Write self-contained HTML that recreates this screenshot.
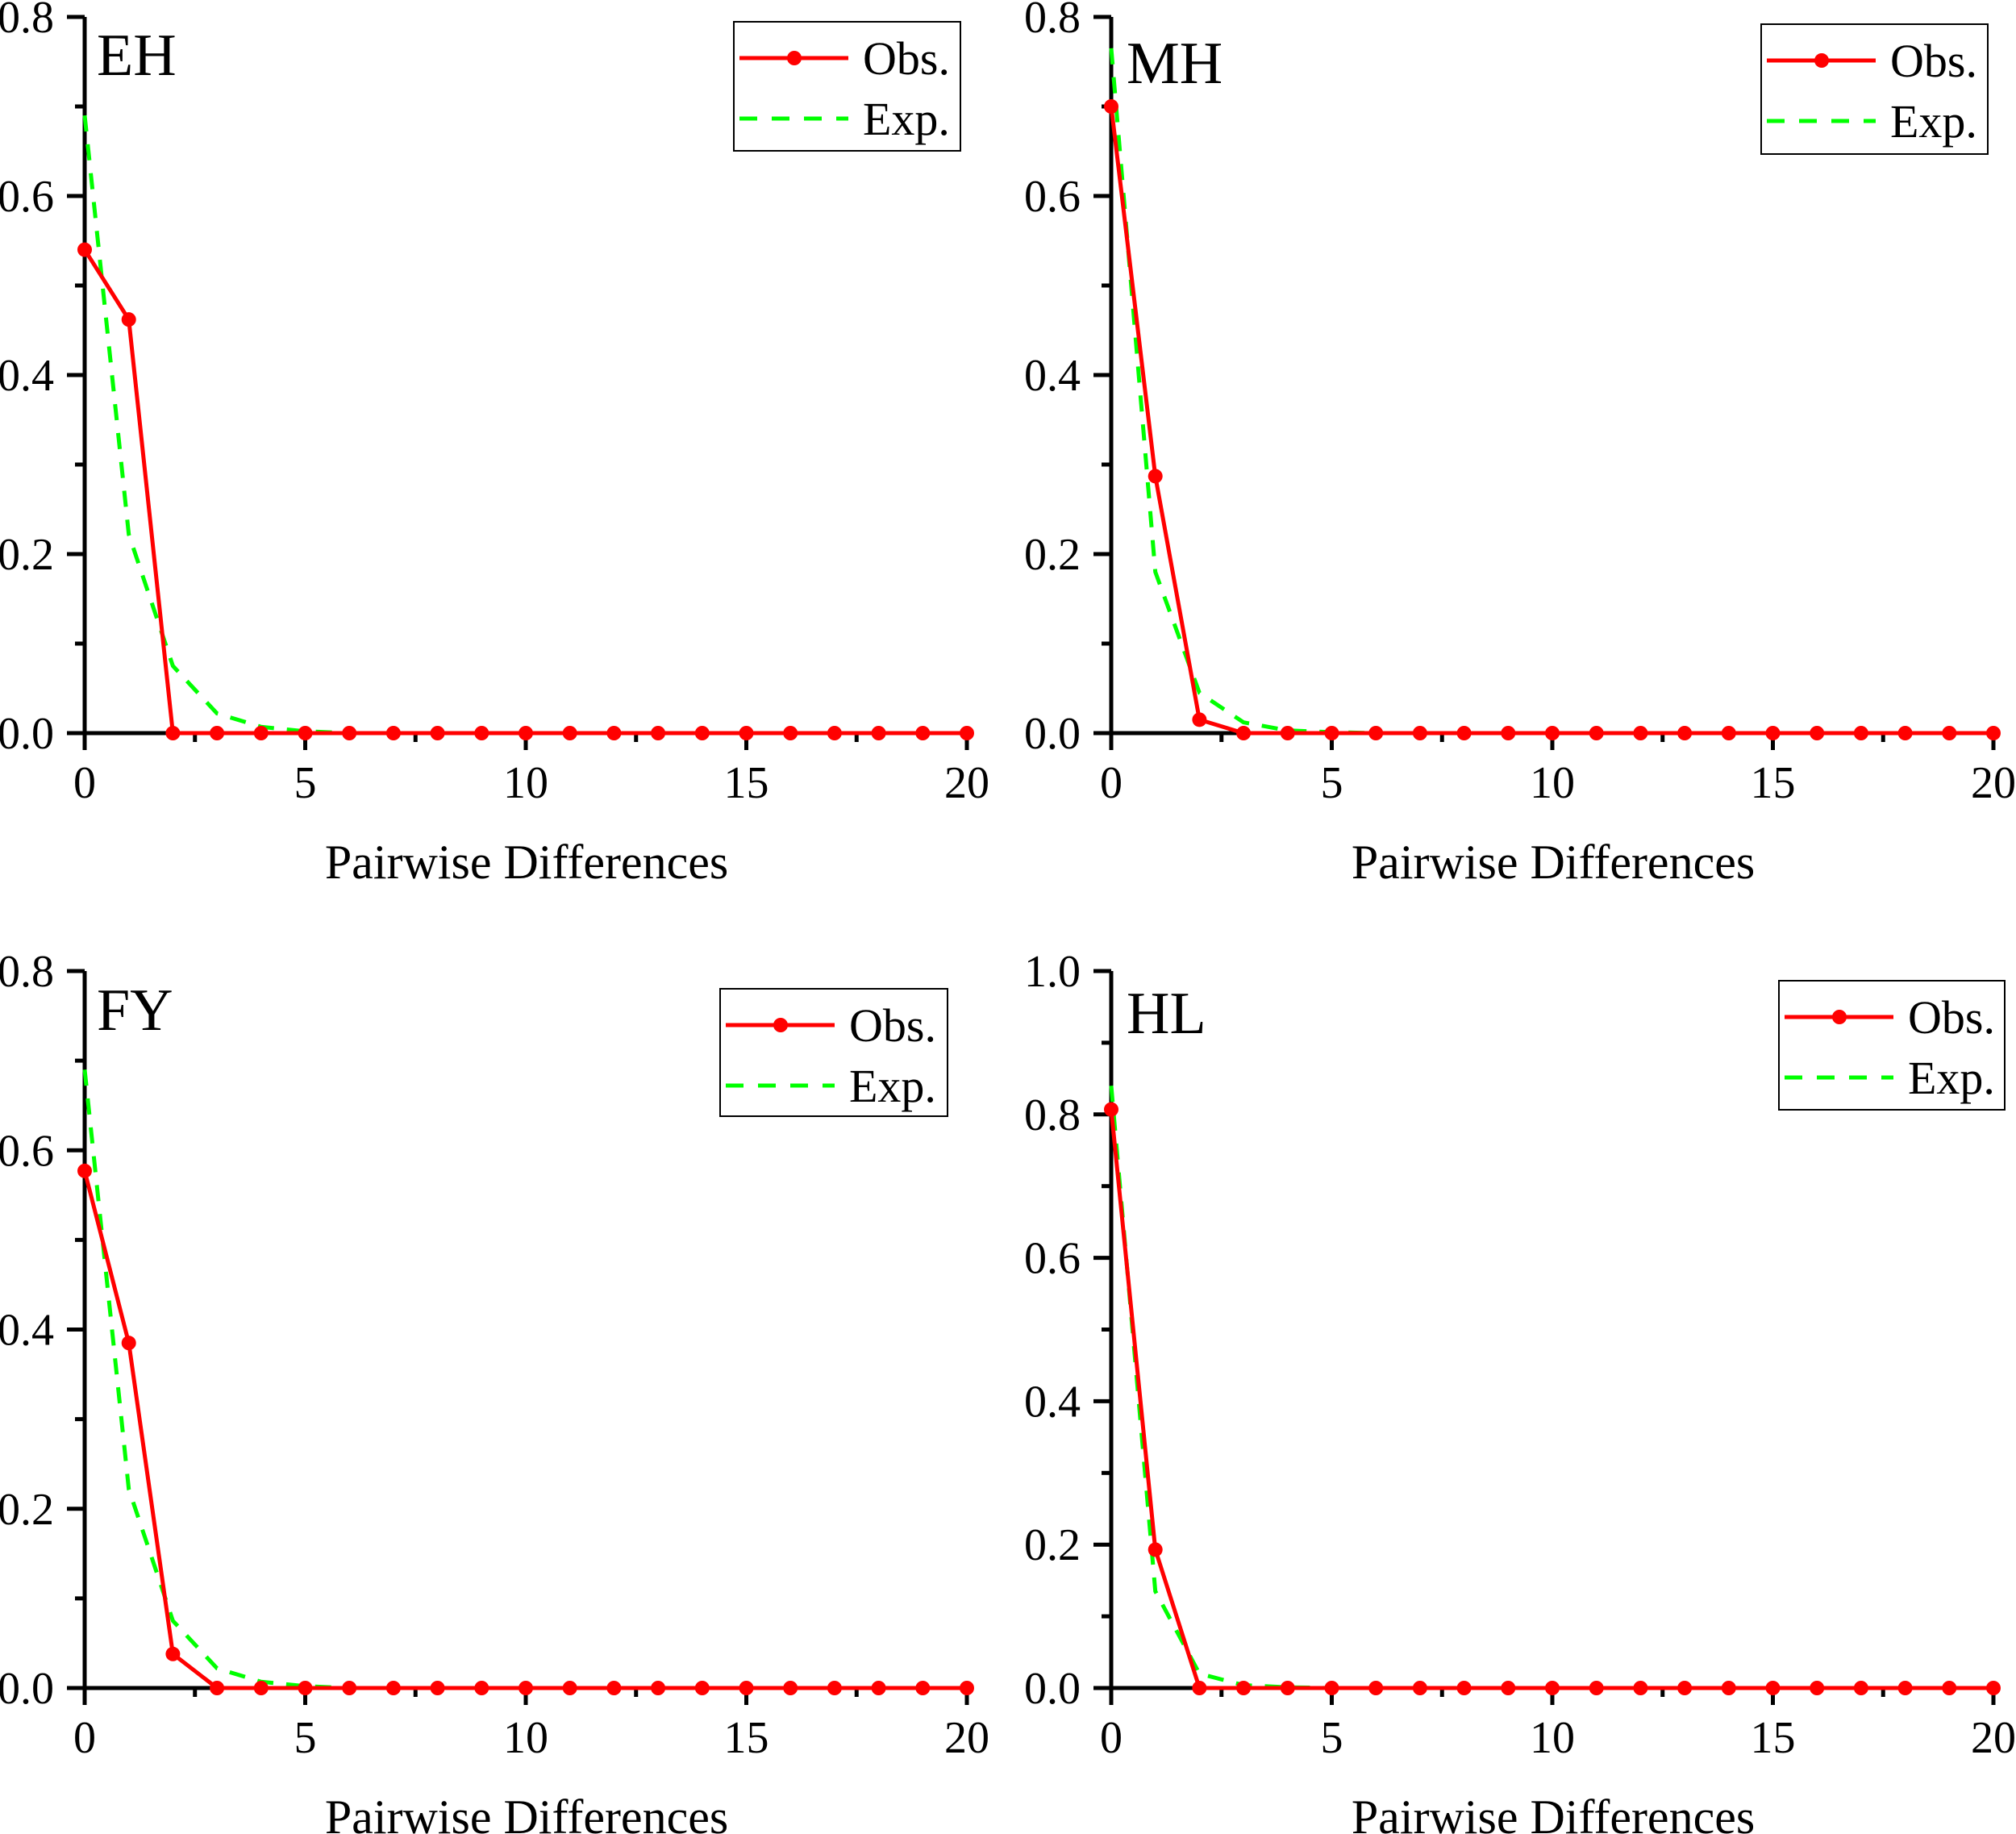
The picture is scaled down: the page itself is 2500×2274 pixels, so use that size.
<!DOCTYPE html>
<html><head><meta charset="utf-8"><style>
html,body{margin:0;padding:0;background:#fff;}
svg{display:block;font-family:"Liberation Serif",serif;}
</style></head><body>
<svg id="fig" width="2500" height="2274" viewBox="0 0 2500 2274" xmlns="http://www.w3.org/2000/svg"></svg>
<script>
const xCats = [0,1,2,3,4,5,6,7,8,9,10,11,12,13,14,15,16,17,18,19,20];
const xTicks = [0,5,10,15,20];
const obsEH = [0.54,0.462,0,0,0,0,0,0,0,0,0,0,0,0,0,0,0,0,0,0,0];
const expEH = [0.69,0.222,0.075,0.022,0.007,0.002,0,0,0,0,0,0,0,0,0,0,0,0,0,0,0];
const obsMH = [0.70,0.287,0.015,0,0,0,0,0,0,0,0,0,0,0,0,0,0,0,0,0,0];
const expMH = [0.765,0.18,0.045,0.012,0.003,0.001,0,0,0,0,0,0,0,0,0,0,0,0,0,0,0];
const obsFY = [0.577,0.385,0.038,0,0,0,0,0,0,0,0,0,0,0,0,0,0,0,0,0,0];
const expFY = [0.69,0.222,0.075,0.022,0.007,0.002,0,0,0,0,0,0,0,0,0,0,0,0,0,0,0];
const obsHL = [0.807,0.193,0,0,0,0,0,0,0,0,0,0,0,0,0,0,0,0,0,0,0];
const expHL = [0.84,0.135,0.02,0.004,0.001,0,0,0,0,0,0,0,0,0,0,0,0,0,0,0,0];
const yTicks08 = ["0.0","0.2","0.4","0.6","0.8"];
const yTicks10 = ["0.0","0.2","0.4","0.6","0.8","1.0"];

const NS="http://www.w3.org/2000/svg";
const svg=document.getElementById('fig');
function mk(tag,attrs,parent){const e=document.createElementNS(NS,tag);for(const k in attrs)e.setAttribute(k,attrs[k]);(parent||svg).appendChild(e);return e;}

const panels=[
 {id:'eh',label:'EH',ax:105,top:21,bot:909,ymax:0.8,yt:yTicks08,obs:obsEH,exp:expEH,lx:120,ly:67,leg:[910,27,281,160]},
 {id:'mh',label:'MH',ax:1378,top:21,bot:909,ymax:0.8,yt:yTicks08,obs:obsMH,exp:expMH,lx:1397,ly:77,leg:[2184,30,281,161]},
 {id:'fy',label:'FY',ax:105,top:1204,bot:2093,ymax:0.8,yt:yTicks08,obs:obsFY,exp:expFY,lx:120,ly:1251,leg:[893,1226,282,158]},
 {id:'hl',label:'HL',ax:1378,top:1204,bot:2093,ymax:1.0,yt:yTicks10,obs:obsHL,exp:expHL,lx:1397,ly:1255,leg:[2206,1216,280,160]}
];
const W=1094;
panels.forEach(p=>{
 const g=mk('g',{});
 
 
 const xs=v=>p.ax+v/20*W;
 const ys=v=>p.bot-(v/p.ymax)*(p.bot-p.top);
 const ya=mk('line',{x1:p.ax,y1:p.top,x2:p.ax,y2:p.bot+21,stroke:'#000','stroke-width':5},g);
 
 
 const xa=mk('line',{x1:p.ax-21,y1:p.bot,x2:xs(20),y2:p.bot,stroke:'#000','stroke-width':5},g);
 
 
 p.yt.forEach((t,i)=>{
  const v=parseFloat(t);const y=ys(v);
  mk('line',{x1:p.ax-22,y1:y,x2:p.ax,y2:y,stroke:'#000','stroke-width':5},g);
  const tx=mk('text',{x:p.ax-38,y:y+19,'font-size':56,'text-anchor':'end',fill:'#000'},g);
  tx.textContent=t;
  
  
  if(i<p.yt.length-1){const ym=ys(v+0.1);mk('line',{x1:p.ax-12,y1:ym,x2:p.ax,y2:ym,stroke:'#000','stroke-width':5},g);}
 });
 xTicks.forEach((t,i)=>{
  const x=xs(t);
  mk('line',{x1:x,y1:p.bot,x2:x,y2:p.bot+21,stroke:'#000','stroke-width':5},g);
  const tx=mk('text',{x:x,y:p.bot+80,'font-size':56,'text-anchor':'middle',fill:'#000'},g);
  tx.textContent=t;
  
  
  if(i<xTicks.length-1){const xm=xs(t+2.5);mk('line',{x1:xm,y1:p.bot,x2:xm,y2:p.bot+11,stroke:'#000','stroke-width':5},g);}
 });
 const xt=mk('text',{x:p.ax+548,y:p.bot+180,'font-size':60,'text-anchor':'middle',fill:'#000'},g);
 xt.textContent='Pairwise Differences';
 
 
 const lb=mk('text',{x:p.lx,y:p.ly+26,'font-size':74,fill:'#000'},g);
 lb.textContent=p.label;
 
 
 const ep=mk('polyline',{points:xCats.map((c,i)=>xs(c)+','+ys(p.exp[i])).join(' '),fill:'none',stroke:'#00ff00','stroke-width':5,'stroke-dasharray':'20,16'},g);
 
 
 const op=mk('polyline',{points:xCats.map((c,i)=>xs(c)+','+ys(p.obs[i])).join(' '),fill:'none',stroke:'#ff0000','stroke-width':5},g);
 
 
 xCats.forEach((c,i)=>{
  const m=mk('circle',{cx:xs(c),cy:ys(p.obs[i]),r:9,fill:'#ff0000'},g);
  
  
 });
 const [lx,ly,lw,lh]=p.leg;
 const lg=mk('g',{},g);
 
 
 mk('rect',{x:lx,y:ly,width:lw,height:lh,fill:'#fff',stroke:'#000','stroke-width':2},lg);
 const y1=ly+45,y2=ly+120;
 mk('line',{x1:lx+7,y1:y1,x2:lx+142,y2:y1,stroke:'#ff0000','stroke-width':5},lg);
 mk('circle',{cx:lx+75,cy:y1,r:9,fill:'#ff0000'},lg);
 const t1=mk('text',{x:lx+160,y:y1+20,'font-size':58,fill:'#000'},lg);
 t1.textContent='Obs.';
 
 
 mk('line',{x1:lx+7,y1:y2,x2:lx+142,y2:y2,stroke:'#00ff00','stroke-width':5,'stroke-dasharray':'22,18'},lg);
 const t2=mk('text',{x:lx+160,y:y2+20,'font-size':58,fill:'#000'},lg);
 t2.textContent='Exp.';
 
 
});
</script>
</body></html>
